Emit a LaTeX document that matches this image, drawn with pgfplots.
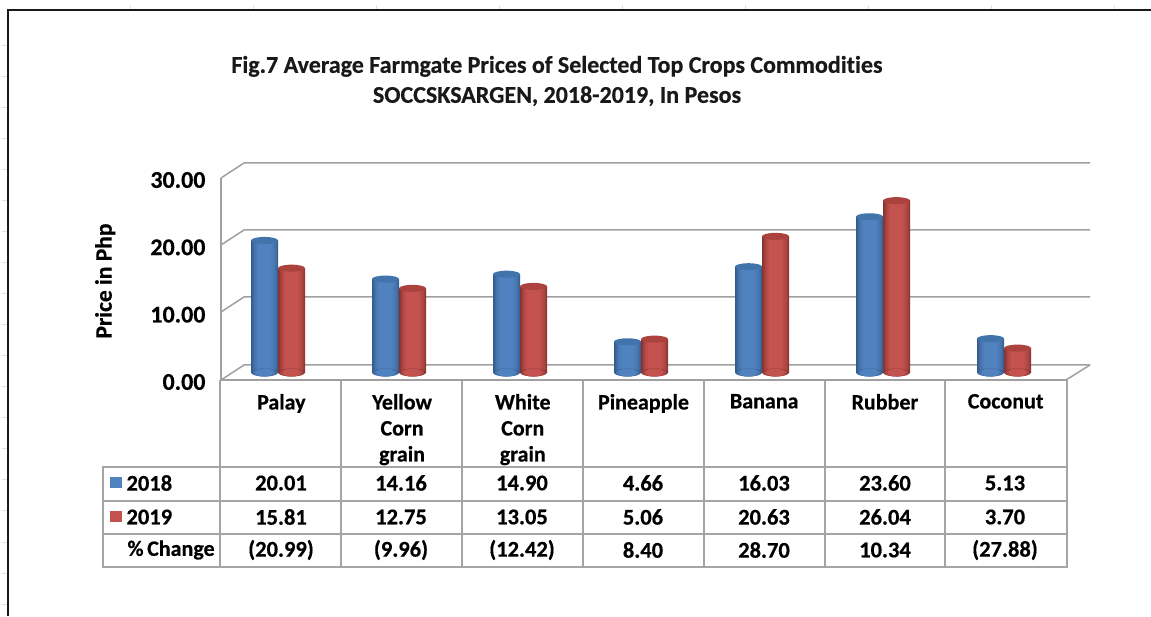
\documentclass[border=0pt]{standalone}
\usepackage{pgfplots}
\usepackage{pgfplotstable}
\usepackage{fontspec}
\pgfplotsset{compat=1.18}
\setmainfont{Carlito}[Ligatures=NoCommon,BoldFeatures={FakeBold=0.5}]
\definecolor{gridg}{RGB}{160,160,160}
\definecolor{tabg}{RGB}{165,165,165}
\definecolor{bl}{RGB}{80,130,192}
\definecolor{blm}{RGB}{70,116,172}
\definecolor{bld}{RGB}{50,90,140}
\definecolor{blt}{RGB}{66,116,172}
\definecolor{rd}{RGB}{196,82,78}
\definecolor{rdm}{RGB}{172,70,66}
\definecolor{rdd}{RGB}{132,50,48}
\definecolor{rdt}{RGB}{172,66,62}
\pgfdeclarehorizontalshading{blcyl}{100bp}{color(0bp)=(bld); color(25bp)=(bld); color(31bp)=(blm); color(38bp)=(bl); color(60bp)=(bl); color(69bp)=(blm); color(75bp)=(bld); color(100bp)=(bld)}
\pgfdeclarehorizontalshading{rdcyl}{100bp}{color(0bp)=(rdd); color(25bp)=(rdd); color(31bp)=(rdm); color(38bp)=(rd); color(60bp)=(rd); color(69bp)=(rdm); color(75bp)=(rdd); color(100bp)=(rdd)}
\pgfdeclareplotmark{blbase}{%
  \pgfsetfillcolor{bld}\pgfpathellipse{\pgfpointorigin}{\pgfpoint{13.5pt}{0pt}}{\pgfpoint{0pt}{4pt}}\pgfusepathqfill
  \pgfsetfillcolor{blm}\pgfpathellipse{\pgfpointorigin}{\pgfpoint{12pt}{0pt}}{\pgfpoint{0pt}{4pt}}\pgfusepathqfill
  \pgfsetfillcolor{bl}\pgfpathellipse{\pgfpointorigin}{\pgfpoint{9pt}{0pt}}{\pgfpoint{0pt}{4pt}}\pgfusepathqfill}
\pgfdeclareplotmark{rdbase}{%
  \pgfsetfillcolor{rdd}\pgfpathellipse{\pgfpointorigin}{\pgfpoint{13.5pt}{0pt}}{\pgfpoint{0pt}{4pt}}\pgfusepathqfill
  \pgfsetfillcolor{rdm}\pgfpathellipse{\pgfpointorigin}{\pgfpoint{12pt}{0pt}}{\pgfpoint{0pt}{4pt}}\pgfusepathqfill
  \pgfsetfillcolor{rd}\pgfpathellipse{\pgfpointorigin}{\pgfpoint{9pt}{0pt}}{\pgfpoint{0pt}{4pt}}\pgfusepathqfill}
\pgfdeclareplotmark{cap}{\pgfpathellipse{\pgfpointorigin}{\pgfpoint{13.5pt}{0pt}}{\pgfpoint{0pt}{3.5pt}}\pgfusepathqfill}
\newcommand{\lab}{\bfseries\fontsize{22.5}{26}\selectfont}
% one cylinder: category index, value
\newcommand{\bluecyl}[2]{%
  \addplot[only marks,mark=blbase,mark options={xshift=-13.5pt}] coordinates {(#1,0)};
  \addplot[ybar,bar width=27pt,bar shift=-13.5pt,draw=none,shading=blcyl] coordinates {(#1,#2)};
  \addplot[only marks,mark=cap,mark options={xshift=-13.5pt,fill=blt,draw=none}] coordinates {(#1,#2)};
}
\newcommand{\redcyl}[2]{%
  \addplot[only marks,mark=rdbase,mark options={xshift=13.5pt}] coordinates {(#1,0)};
  \addplot[ybar,bar width=27pt,bar shift=13.5pt,draw=none,shading=rdcyl] coordinates {(#1,#2)};
  \addplot[only marks,mark=cap,mark options={xshift=13.5pt,fill=rdt,draw=none}] coordinates {(#1,#2)};
}
\begin{document}
\begin{tikzpicture}[x=1pt,y=1pt]
\useasboundingbox (0,0) rectangle (1151,616);
% sheet marks and outer frame
\foreach \xx in {130,253,376,499,622,745,868,991,1114} \draw[black!12,line width=1pt] (\xx,611)--(\xx,607);
\foreach \yy in {46,77,108,139,170,201,232,263,294,325,356,387,418,449,480,511,542,573,604} \draw[black!12,line width=1pt] (2,616-\yy)--(7,616-\yy);
\draw[black!90,line width=2.4pt] (8,0)--(8,606)--(1151,606);
% back gridlines and side wall
\foreach \yy in {163,230,297,365} {
  \draw[gridg,line width=1.5pt] (221,616-\yy-15)--(244,616-\yy)--(1090,616-\yy);
}
\draw[gridg,line width=1.5pt] (1066,616-380)--(1090,616-365);
% scale axis on the front plane
\begin{axis}[at={(221pt,236pt)},anchor=south west,scale only axis,
  width=845pt,height=202pt,xmin=0,xmax=7,ymin=0,ymax=30,
  axis x line*=bottom,axis y line*=left,
  axis line style={gridg,line width=1.5pt,-},
  tick style={draw=none},
  xtick={0.5,1.5,2.5,3.5,4.5,5.5,6.5},
  xticklabels={Palay,{Yellow\\Corn\\grain},{White\\Corn\\grain},Pineapple,Banana,Rubber,Coconut},
  xticklabel style={font=\bfseries\fontsize{22}{26}\selectfont,align=center,anchor=north,yshift=-10.5pt,text=black},
  ytick={0,10,20,30},
  yticklabel style={font=\bfseries\fontsize{24}{26}\selectfont,anchor=east,xshift=-12pt,yshift=-2pt,text=black},
  /pgf/number format/fixed,/pgf/number format/fixed zerofill,/pgf/number format/precision=2,
  /pgf/number format/assume math mode=true,
  ylabel={Price in Php},
  ylabel style={font=\bfseries\fontsize{23.5}{26}\selectfont,at={(axis description cs:-0.137,0.49)},anchor=center,rotate=0},
]
\end{axis}
% cylinders
\begin{axis}[at={(0pt,0pt)},anchor=south west,scale only axis,hide axis,
  width=1151pt,height=616pt,xmin=-2.2975,xmax=7.2149,ymin=-36.89,ymax=56.44]
\bluecyl{0}{20.01}\redcyl{0}{15.81}
\bluecyl{1}{14.16}\redcyl{1}{12.75}
\bluecyl{2}{14.90}\redcyl{2}{13.05}
\bluecyl{3}{4.66}\redcyl{3}{5.06}
\bluecyl{4}{16.03}\redcyl{4}{20.63}
\bluecyl{5}{23.60}\redcyl{5}{26.04}
\bluecyl{6}{5.13}\redcyl{6}{3.70}
\end{axis}
% title
\node[font=\bfseries\fontsize{24}{30}\selectfont,align=center,text=black!90] at (557,616-81) {Fig.7 Average Farmgate Prices of Selected Top Crops Commodities\\SOCCSKSARGEN, 2018-2019, In Pesos};
% data table
\begin{scope}[tabg,line width=1.4pt]
\draw (103,616-467) rectangle (1067,616-567);
\draw (103,616-501)--(1067,616-501);
\draw (103,616-534)--(1067,616-534);
\foreach \xx in {220,341,462,583,704,825,945} \draw (\xx,616-380)--(\xx,616-567);
\draw (1067,616-380)--(1067,616-467);
\end{scope}
\fill[bl] (110,616-477) rectangle (122,616-488);
\fill[rd] (110,616-511) rectangle (122,616-522);
\node[font=\lab,anchor=west] at (123,616-483) {2018};
\node[font=\lab,anchor=west] at (123,616-517) {2019};
\node[font=\bfseries\fontsize{22}{24}\selectfont,anchor=west] at (124,616-550) {\%\,Change};
\foreach \xx/\a/\b/\c in {
 281/20.01/15.81/(20.99),
 401/14.16/12.75/(9.96),
 522/14.90/13.05/(12.42),
 643/4.66/5.06/8.40,
 764/16.03/20.63/28.70,
 885/23.60/26.04/10.34,
 1005/5.13/3.70/(27.88)} {
  \node[font=\lab] at (\xx,616-483) {\a};
  \node[font=\lab] at (\xx,616-517) {\b};
  \node[font=\lab] at (\xx,616-550) {\c};
}
\end{tikzpicture}
\end{document}
